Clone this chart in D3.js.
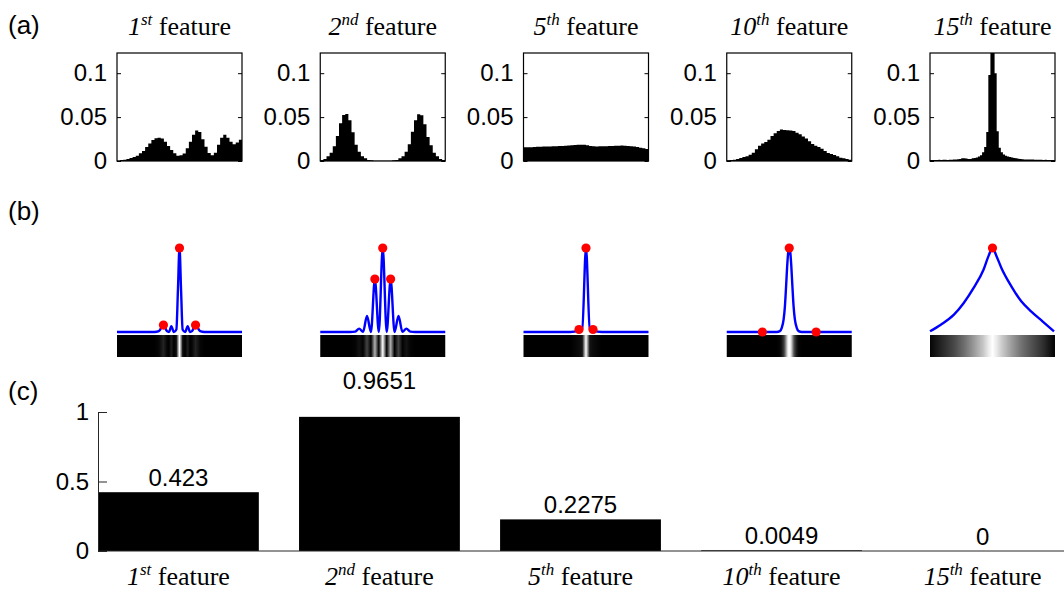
<!DOCTYPE html>
<html>
<head>
<meta charset="utf-8">
<script src="https://cdn.jsdelivr.net/npm/d3@7"></script>
<style>
  body { margin: 0; background: #fff; }
  svg { display: block; }
</style>
</head>
<body>
<div id="chart"></div>
<script>

let width = 1064;
let height = 593;

// feature names: number + ordinal suffix
let featureNums = ['1', '2', '5', '10', '15'];
let featureSups = ['st', 'nd', 'th', 'th', 'th'];

// (a) histograms, one value per bin
let hist1 = [0.0004,0.0011,0.0015,0.0023,0.0034,0.0046,0.0061,0.0087,0.0114,0.0160,
             0.0200,0.0240,0.0258,0.0266,0.0255,0.0220,0.0170,0.0125,0.0087,0.0061,
             0.0065,0.0084,0.0144,0.0220,0.0300,0.0346,0.0330,0.0247,0.0163,0.0090,
             0.0065,0.0095,0.0186,0.0266,0.0300,0.0266,0.0220,0.0190,0.0210,0.0243];
let hist2 = [0.0011,0.0023,0.0053,0.0095,0.0167,0.0285,0.0430,0.0524,0.0536,0.0464,
             0.0327,0.0186,0.0106,0.0053,0.0030,0.0011,0.0008,0.0004,0.0003,0.0003,
             0.0003,0.0003,0.0004,0.0008,0.0011,0.0030,0.0053,0.0106,0.0190,0.0334,
             0.0464,0.0532,0.0520,0.0418,0.0274,0.0179,0.0095,0.0053,0.0023,0.0011];
let hist3 = [0.0156,0.0157,0.0158,0.0160,0.0162,0.0163,0.0164,0.0165,0.0166,0.0167,
             0.0168,0.0170,0.0172,0.0174,0.0176,0.0179,0.0182,0.0185,0.0186,0.0184,
             0.0178,0.0172,0.0167,0.0166,0.0167,0.0168,0.0169,0.0170,0.0172,0.0174,
             0.0175,0.0176,0.0175,0.0172,0.0169,0.0166,0.0160,0.0152,0.0144,0.0136];
let hist4 = [0.0008,0.0011,0.0015,0.0023,0.0034,0.0046,0.0053,0.0072,0.0095,0.0133,
             0.0175,0.0198,0.0217,0.0243,0.0285,0.0315,0.0342,0.0360,0.0353,0.0350,
             0.0346,0.0342,0.0323,0.0304,0.0280,0.0255,0.0224,0.0194,0.0175,0.0160,
             0.0140,0.0114,0.0091,0.0080,0.0068,0.0053,0.0038,0.0030,0.0023,0.0015];
let hist5 = [0.0012,0.0010,0.0012,0.0011,0.0013,0.0012,0.0014,0.0013,0.0012,0.0014,
             0.0015,0.0016,0.0018,0.0020,0.0024,0.0030,0.0030,0.0028,0.0022,0.0024,
             0.0030,0.0034,0.0040,0.0050,0.0065,0.0100,0.0160,0.0330,0.0980,0.1400,
             0.1400,0.1000,0.0340,0.0150,0.0100,0.0075,0.0060,0.0052,0.0045,0.0040,
             0.0035,0.0030,0.0026,0.0023,0.0020,0.0018,0.0017,0.0016,0.0018,0.0016,
             0.0014,0.0013,0.0015,0.0013,0.0012,0.0013,0.0012,0.0011,0.0012,0.0011];
let histTicks = [0, 0.05, 0.1];

// (b) normalised profiles [x, y] and their marked peaks
let profile1 = [[-1,0],[-0.4,0],[-0.33,0.01],[-0.257,0.083],[-0.2,0.01],[-0.168,0],[-0.131,0.07],
                [-0.09,0],[-0.05,0.03],[-0.025,0.5],[0,1],[0.025,0.5],[0.05,0.03],[0.09,0],
                [0.131,0.07],[0.168,0],[0.2,0.01],[0.257,0.083],[0.33,0.01],[0.4,0],[1,0]];
let profile2 = [[-1,0],[-0.52,0],[-0.44,0.005],[-0.378,0.04],[-0.315,0.002],[-0.252,0.19],
                [-0.189,0],[-0.126,0.63],[-0.063,0],[0,1],[0.063,0],[0.126,0.63],[0.189,0],
                [0.252,0.19],[0.315,0.002],[0.378,0.04],[0.44,0.005],[0.52,0],[1,0]];
let profile3 = [[-1,0],[-0.25,0],[-0.112,0.02],[-0.06,0.04],[0,1],[0.06,0.04],[0.112,0.02],
                [0.25,0],[1,0]];
let profile4 = [[-1,0],[-0.2,0],[-0.15,0.01],[-0.12,0.05],[-0.09,0.15],[-0.07,0.3],[-0.05,0.55],
                [-0.03,0.82],[-0.015,0.96],[0,1],[0.015,0.96],[0.03,0.82],[0.05,0.55],[0.07,0.3],
                [0.09,0.15],[0.12,0.05],[0.15,0.01],[0.2,0],[1,0]];
let profile5 = [[-1,0.008],[-0.827,0.087],[-0.617,0.206],[-0.46,0.345],[-0.302,0.524],
                [-0.144,0.742],[-0.066,0.9],[0,1],[0.066,0.9],[0.144,0.76],[0.302,0.544],
                [0.46,0.365],[0.617,0.246],[0.8,0.127],[0.984,0.008]];
let peaks1 = [[-0.257,0.083],[0,1],[0.257,0.083]];
let peaks2 = [[-0.126,0.63],[0,1],[0.126,0.63]];
let peaks3 = [[-0.112,0.03],[0,1],[0.112,0.03]];
let peaks4 = [[-0.43,0],[0,1],[0.43,0]];
let peaks5 = [[0,1]];

// (c) bars
let barValues = [0.423, 0.9651, 0.2275, 0.0049, 0];
let barLabels = ['0.423', '0.9651', '0.2275', '0.0049', '0'];
let barTicks = [0, 0.5, 1];

let histograms = [hist1, hist2, hist3, hist4, hist5];
let profiles = [profile1, profile2, profile3, profile4, profile5];
let peaks = [peaks1, peaks2, peaks3, peaks4, peaks5];

let sansFont = 'Arial, "Liberation Sans", sans-serif';
let serifFont = '"Times New Roman", "Liberation Serif", serif';

let svg = d3.select('#chart')
    .append('svg')
    .attr('width', width)
    .attr('height', height);

let defs = svg.append('defs');

// shared column layout for (a) and (b)
let panelX = d3.scaleBand()
    .domain(d3.range(5))
    .range([117, 1055])
    .paddingInner(0.385)
    .paddingOuter(0);
let bw = panelX.bandwidth();

let histY = d3.scaleLinear().domain([0, 0.123]).range([161, 53]);

function featureTitle(sel, i) {
    sel.append('tspan').attr('font-style', 'italic').text(featureNums[i]);
    sel.append('tspan').attr('font-style', 'italic').attr('font-size', 17).attr('dy', -10).text(featureSups[i]);
    sel.append('tspan').attr('dy', 10).text(' feature');
}

// panel letters
[['(a)', 34], ['(b)', 220], ['(c)', 400]].forEach(function(d) {
    svg.append('text')
        .attr('x', 8).attr('y', d[1])
        .attr('font-family', sansFont)
        .attr('font-size', 26)
        .text(d[0]);
});

// ---- (a) histograms
histograms.forEach(function(hist, i) {
    let g = svg.append('g')
        .attr('class', 'hist')
        .attr('transform', 'translate(' + panelX(i) + ',0)');

    defs.append('clipPath').attr('id', 'clip' + i)
        .append('rect').attr('x', 0).attr('y', histY.range()[1]).attr('width', bw)
        .attr('height', histY.range()[0] - histY.range()[1]);

    let hx = d3.scaleLinear().domain([0, hist.length]).range([0, bw]);
    let steps = hist.map((d, j) => [j, d]).concat([[hist.length, hist[hist.length - 1]]]);
    let area = d3.area()
        .x(d => hx(d[0]))
        .y0(histY(0))
        .y1(d => histY(d[1]))
        .curve(d3.curveStepAfter);

    g.append('path')
        .datum(steps)
        .attr('clip-path', 'url(#clip' + i + ')')
        .attr('d', area)
        .attr('fill', '#000');

    let left = g.append('g')
        .call(d3.axisLeft(histY).tickValues(histTicks).tickSize(-4).tickSizeOuter(0)
            .tickPadding(10).tickFormat(d => String(d)));
    left.select('.domain').remove();
    left.selectAll('text').attr('font-family', sansFont).attr('font-size', 24).attr('fill', '#000');

    let right = g.append('g').attr('transform', 'translate(' + bw + ',0)')
        .call(d3.axisRight(histY).tickValues(histTicks).tickSize(-4).tickSizeOuter(0).tickFormat(''));
    right.select('.domain').remove();

    g.append('rect')
        .attr('x', 0).attr('y', histY.range()[1])
        .attr('width', bw).attr('height', histY.range()[0] - histY.range()[1])
        .attr('fill', 'none').attr('stroke', '#000').attr('stroke-width', 1.2);

    g.append('text')
        .attr('x', bw / 2).attr('y', 35)
        .attr('text-anchor', 'middle')
        .attr('font-family', serifFont)
        .attr('font-size', 26)
        .call(featureTitle, i);
});

// ---- (b) profiles with intensity strips
let profX = d3.scaleLinear().domain([-1, 1]).range([0, bw]);
let profY = d3.scaleLinear().domain([0, 1]).range([332, 248]);
let line = d3.line().x(d => profX(d[0])).y(d => profY(d[1])).curve(d3.curveMonotoneX);

profiles.forEach(function(prof, i) {
    let g = svg.append('g')
        .attr('class', 'profile')
        .attr('transform', 'translate(' + panelX(i) + ',0)');

    let grad = defs.append('linearGradient').attr('id', 'strip' + i)
        .attr('x1', '0%').attr('x2', '100%').attr('y1', '0%').attr('y2', '0%');
    grad.selectAll('stop')
        .data(prof)
        .join('stop')
        .attr('offset', d => ((d[0] + 1) / 2 * 100) + '%')
        .attr('stop-color', function(d) {
            let v = Math.round(255 * Math.pow(Math.max(d[1], 0), 0.8));
            return d3.rgb(v, v, v);
        });

    g.append('rect')
        .attr('x', 0).attr('y', 335)
        .attr('width', bw).attr('height', 22)
        .attr('fill', 'url(#strip' + i + ')');

    g.append('path')
        .datum(prof)
        .attr('d', line)
        .attr('fill', 'none')
        .attr('stroke', '#0000ff')
        .attr('stroke-width', 2.4)
        .attr('stroke-linejoin', 'round');

    g.selectAll('circle')
        .data(peaks[i])
        .join('circle')
        .attr('cx', d => profX(d[0]))
        .attr('cy', d => profY(d[1]))
        .attr('r', 4.6)
        .attr('fill', '#ff0000');
});

// ---- (c) bar chart
let barX = d3.scaleBand()
    .domain(d3.range(5))
    .range([98, 1063])
    .paddingInner(0.2)
    .paddingOuter(0);
let barY = d3.scaleLinear().domain([0, 1]).range([551, 412]);

let bars = svg.append('g').attr('class', 'bars');

bars.selectAll('rect')
    .data(barValues)
    .join('rect')
    .attr('x', (d, i) => barX(i))
    .attr('width', barX.bandwidth())
    .attr('y', d => barY(d))
    .attr('height', d => barY(0) - barY(d))
    .attr('fill', '#000');

// labels sit just above each bar; the one near the top of the axis is lifted clear of it
bars.selectAll('text.val')
    .data(barValues)
    .join('text')
    .attr('class', 'val')
    .attr('x', (d, i) => barX(i) + barX.bandwidth() / 2)
    .attr('y', d => barY(d) - (d > 0.9 ? 28 : 6))
    .attr('text-anchor', 'middle')
    .attr('font-family', sansFont)
    .attr('font-size', 24)
    .text((d, i) => barLabels[i]);

let yAxis = bars.append('g')
    .attr('transform', 'translate(' + barX.range()[0] + ',0)')
    .call(d3.axisLeft(barY).tickValues(barTicks).tickSize(-9).tickSizeOuter(0)
        .tickPadding(9).tickFormat(d => String(d)));
yAxis.selectAll('path, line').attr('stroke', '#262626');
yAxis.selectAll('text').attr('font-family', sansFont).attr('font-size', 24).attr('fill', '#000');

bars.append('line')
    .attr('x1', barX.range()[0]).attr('x2', width)
    .attr('y1', barY(0)).attr('y2', barY(0))
    .attr('stroke', '#262626').attr('stroke-width', 1);

featureNums.forEach(function(n, i) {
    bars.append('text')
        .attr('x', barX(i) + barX.bandwidth() / 2)
        .attr('y', 585)
        .attr('text-anchor', 'middle')
        .attr('font-family', serifFont)
        .attr('font-size', 26)
        .call(featureTitle, i);
});

</script>
</body>
</html>
